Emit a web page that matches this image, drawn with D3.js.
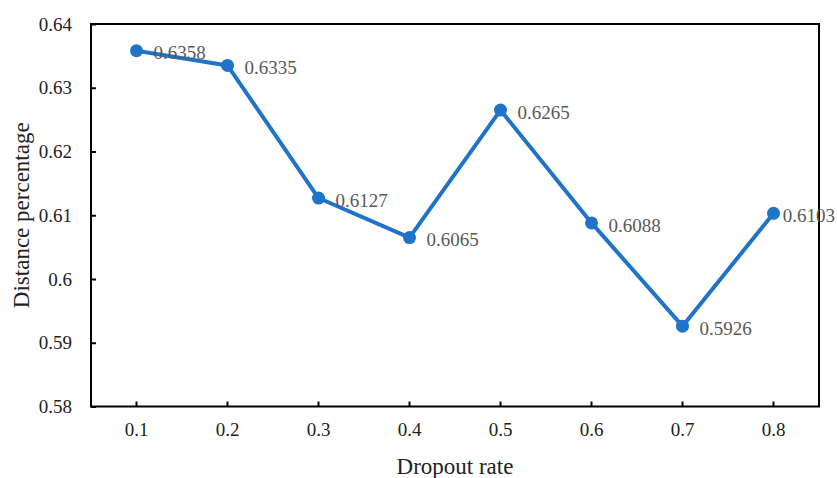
<!DOCTYPE html>
<html><head><meta charset="utf-8">
<script src="https://cdn.jsdelivr.net/npm/d3@7"></script>
<style>body{margin:0;background:#fff}</style>
</head><body>
<svg id="c" width="837" height="478"></svg>
<script>
const categories = ["0.1","0.2","0.3","0.4","0.5","0.6","0.7","0.8"];
const values = [0.6358,0.6335,0.6127,0.6065,0.6265,0.6088,0.5926,0.6103];
const labels = ["0.6358","0.6335","0.6127","0.6065","0.6265","0.6088","0.5926","0.6103"];
const yTicks = [0.58,0.59,0.60,0.61,0.62,0.63,0.64];
const yTickLabels = ["0.58","0.59","0.6","0.61","0.62","0.63","0.64"];

const svg = d3.select("#c");
const W=837, L=91, R=819, T=24, B=406.5;
const font = "'Liberation Serif', serif";
const x = d3.scaleBand().domain(categories).range([L,R]);
const y = d3.scaleLinear().domain([0.58,0.64]).range([B,T]);
const color = "#1f73c8";

const ya = svg.append("g").attr("transform",`translate(${L},0)`)
  .call(d3.axisLeft(y).tickValues(yTicks).tickFormat((d,i)=>yTickLabels[i]).tickSize(-5).tickPadding(19));
ya.select(".domain").remove();
ya.selectAll("line").attr("stroke","#000").attr("stroke-width",2);
ya.selectAll("text").attr("font-family",font).attr("font-size",19).attr("fill","#222");

const xa = svg.append("g").attr("transform",`translate(0,${B})`)
  .call(d3.axisBottom(x).tickSize(-5).tickPadding(16));
xa.select(".domain").remove();
xa.selectAll("line").attr("stroke","#000").attr("stroke-width",2);
xa.selectAll("text").attr("font-family",font).attr("font-size",19).attr("fill","#222");

svg.append("rect").attr("x",L).attr("y",T).attr("width",R-L).attr("height",B-T)
  .attr("fill","none").attr("stroke","#000").attr("stroke-width",2);

const pts = categories.map((c,i)=>({c, v:values[i], l:labels[i]}));
const cx = d=> x(d.c)+x.bandwidth()/2;
svg.append("path").datum(pts)
  .attr("d", d3.line().x(cx).y(d=>y(d.v)))
  .attr("fill","none").attr("stroke",color).attr("stroke-width",4).attr("stroke-linejoin","round");
svg.selectAll("circle.pt").data(pts).join("circle")
  .attr("cx",cx).attr("cy",d=>y(d.v)).attr("r",6.5).attr("fill",color);
svg.selectAll("text.lbl").data(pts).join("text")
  .attr("x",d=>cx(d)+17).attr("y",d=>y(d.v)+2).attr("dy","0.35em")
  .attr("font-family",font).attr("font-size",19).attr("fill","#595959").text(d=>d.l)
  .each(function(){
    const w=this.getComputedTextLength();
    const x0=+this.getAttribute("x");
    if (x0+w > W-2) this.setAttribute("x", W-2-w);
  });

svg.append("text").attr("x",(L+R)/2).attr("y",474).attr("text-anchor","middle")
  .attr("font-family",font).attr("font-size",23).attr("fill","#222").text("Dropout rate");
svg.append("text").attr("transform",`translate(29,${(T+B)/2}) rotate(-90)`).attr("text-anchor","middle")
  .attr("font-family",font).attr("font-size",23).attr("fill","#222").text("Distance percentage");
</script>
</body></html>
